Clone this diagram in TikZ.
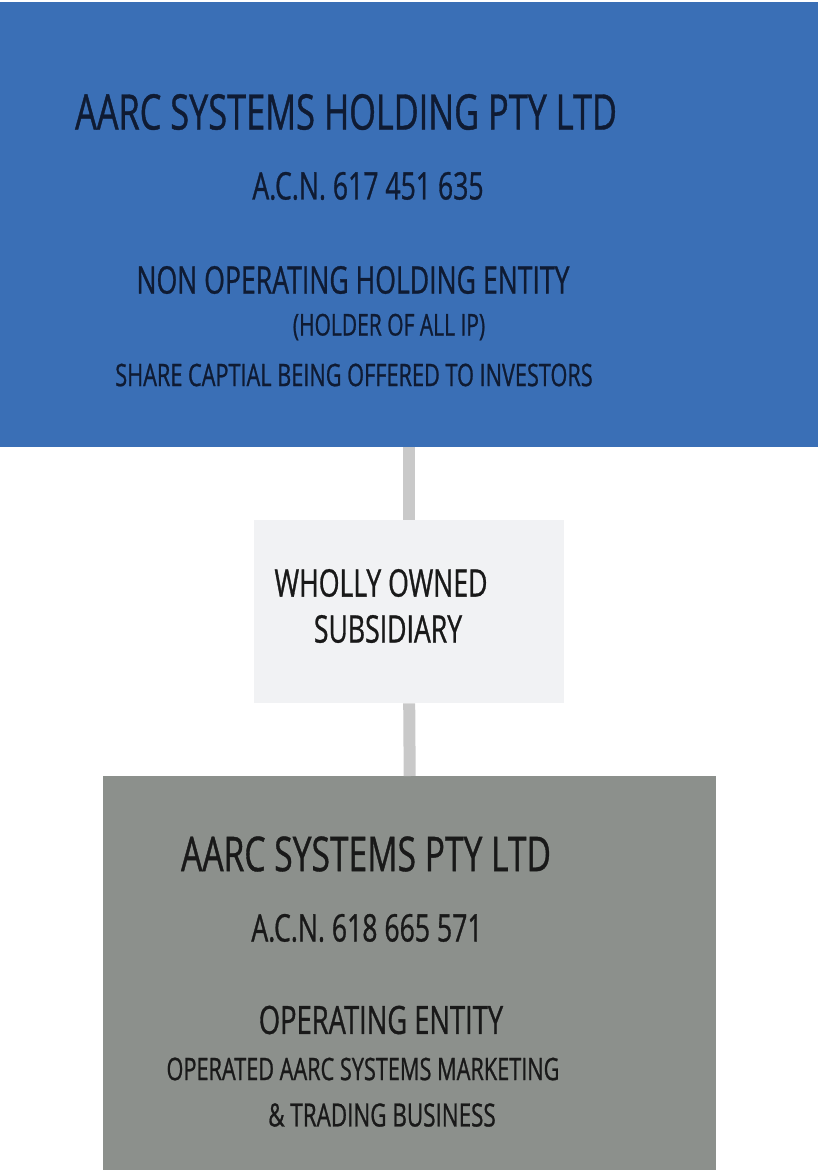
\documentclass[tikz,border=0pt]{standalone}
\usepackage{fontspec}
\setmainfont[FakeStretch=0.7,FakeBold=0.8]{Open Sans}
\definecolor{holdblue}{HTML}{3A6FB6}
\definecolor{subgrey}{HTML}{F1F2F4}
\definecolor{opgrey}{HTML}{8C908C}
\definecolor{linkgrey}{HTML}{C9C9C9}
\definecolor{navytext}{HTML}{0F1B33}
\tikzset{
  entitybox/.style={rectangle,inner sep=0pt,anchor=north west},
  txt/.style={inner sep=0pt,anchor=center},
  link/.style={draw=linkgrey,line width=12pt}
}
\begin{document}
\begin{tikzpicture}[x=1pt,y=-1pt]
\useasboundingbox (0,0) rectangle (818,1170);
% boxes
\node[entitybox,fill=holdblue,minimum width=818pt,minimum height=445pt] (hold) at (0,2) {};
\node[entitybox,fill=subgrey,minimum width=310pt,minimum height=183pt] (sub) at (254,520) {};
\node[entitybox,fill=opgrey,minimum width=613pt,minimum height=396pt] (oper) at (103,776) {};
% connectors
\draw[link] (hold.south) -- (sub.north);
\draw[link] (sub.south) -- (oper.north);
% holding text
\begin{scope}[every node/.append style={txt,text=navytext}]
\node (holdname) at (346,112) {\fontsize{49}{49}\selectfont AARC SYSTEMS HOLDING PTY LTD};
\node (holdacn) at (368,186) {\fontsize{38}{38}\selectfont A.C.N. 617 451 635};
\node (holdrole) at (353,280) {\fontsize{38}{38}\selectfont NON OPERATING HOLDING ENTITY};
\node (holdip) at (389,327) {\fontsize{30}{30}\selectfont (HOLDER OF ALL IP)};
\node (holdshare) at (354,375) {\fontsize{31}{31}\selectfont SHARE CAPTIAL BEING OFFERED TO INVESTORS};
\end{scope}
% subsidiary text
\begin{scope}[every node/.append style={txt,text=black!90}]
\node (subline1) at (381,583) {\fontsize{38}{38}\selectfont WHOLLY OWNED};
\node (subline2) at (388,629) {\fontsize{38}{38}\selectfont SUBSIDIARY};
% operating text
\node (opername) at (366,854) {\fontsize{48}{48}\selectfont AARC SYSTEMS PTY LTD};
\node (operacn) at (367,928) {\fontsize{38}{38}\selectfont A.C.N. 618 665 571};
\node (operrole) at (381,1020) {\fontsize{39}{39}\selectfont OPERATING ENTITY};
\node (operline1) at (363,1069) {\fontsize{31}{31}\selectfont OPERATED AARC SYSTEMS MARKETING};
\node (operline2) at (382,1115) {\fontsize{32}{32}\selectfont \& TRADING BUSINESS};
\end{scope}
\end{tikzpicture}
\end{document}
